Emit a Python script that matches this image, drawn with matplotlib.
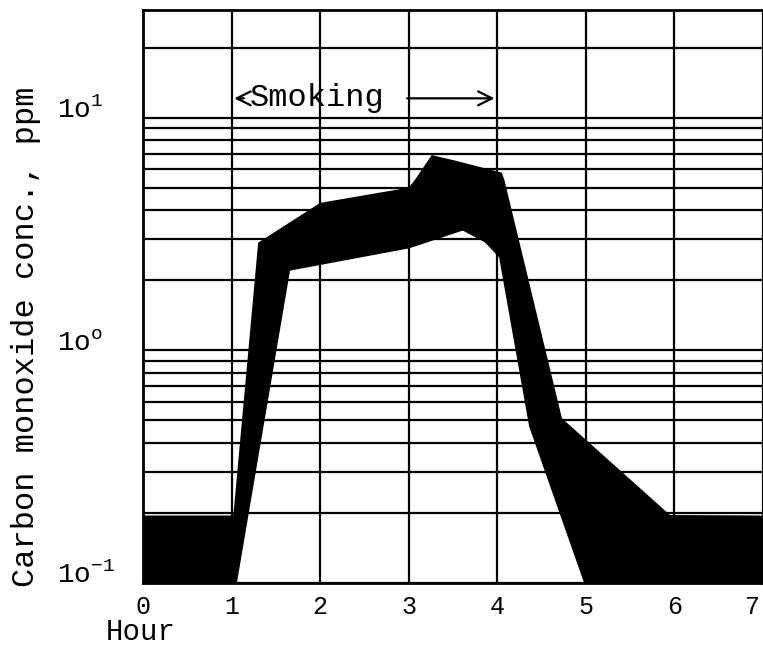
import matplotlib.pyplot as plt
import matplotlib.transforms as mtransforms
from matplotlib.ticker import LogLocator, NullFormatter

plt.rcParams['font.family'] = ['Liberation Mono', 'DejaVu Sans Mono']

# band of CO concentration (upper and lower edge), hours vs ppm
upper_hr = [0, 1.02, 1.30, 2.0, 3.0, 3.07, 3.26, 3.55, 4.05, 4.08, 4.73, 5.95, 7.0]
upper_ppm = [0.195, 0.195, 2.9, 4.3, 5.0, 5.4, 6.9, 6.5, 5.8, 5.4, 0.51, 0.196, 0.195]
lower_hr = [0, 1.06, 1.66, 3.0, 3.21, 3.61, 3.86, 4.02, 4.36, 4.98, 7.0]
lower_ppm = [0.1, 0.1, 2.2, 2.74, 2.91, 3.27, 2.91, 2.51, 0.47, 0.1, 0.1]

hours = [0, 1, 2, 3, 4, 5, 6, 7]
hour_labels = ['0', '1', '2', '3', '4', '5', '6', '7']
yticks = [0.1, 1, 10]
ytick_labels = [r'$\mathregular{1o^{-1}}$', r'$\mathregular{1o^{o}}$', r'$\mathregular{1o^{1}}$']

smoking_start, smoking_end = 1.0, 4.0

fig = plt.figure(figsize=(7.63, 6.49), dpi=100)
ax = fig.add_axes([143/763, 66/649, 620/763, 573/649])
ax.set_yscale('log')
ax.set_xlim(0, 7)
ax.set_ylim(0.1, 29)

ax.fill(upper_hr + lower_hr[::-1], upper_ppm + lower_ppm[::-1],
        color='black', lw=0, zorder=3)

ax.set_xticks(hours)
ax.set_xticklabels(hour_labels, fontsize=18)
ax.set_yticks(yticks)
ax.set_yticklabels(ytick_labels, fontsize=20)
ax.yaxis.set_minor_locator(LogLocator(base=10, subs=range(2, 10), numticks=20))
ax.yaxis.set_minor_formatter(NullFormatter())
ax.tick_params(which='both', length=0)
ax.tick_params(axis='x', pad=9)
ax.tick_params(axis='y', pad=62)
for lbl in ax.get_yticklabels():
    lbl.set_ha('left')
    lbl.set_va('baseline')

# last hour label sits at the right edge, nudge it inward
last = ax.get_xticklabels()[-1]
last.set_ha('right')
last.set_transform(last.get_transform() +
                   mtransforms.ScaledTranslation(-4/100, 0, fig.dpi_scale_trans))

ax.grid(which='both', color='black', lw=1.6)
for sp in ax.spines.values():
    sp.set_linewidth(2)

# smoking period annotation
ax.text(1.2, 12.1, 'Smoking', fontsize=23, va='center', ha='left')
ax.annotate('', xy=(smoking_start, 12.1), xytext=(1.17, 12.1),
            arrowprops=dict(arrowstyle='->', lw=1.6, mutation_scale=25))
ax.annotate('', xy=(smoking_end, 12.1), xytext=(2.95, 12.1),
            arrowprops=dict(arrowstyle='->', lw=1.6, mutation_scale=25))

fig.text(26/763, 1 - 337/649, 'Carbon monoxide conc., ppm', rotation=90,
         ha='center', va='center', fontsize=23)
fig.text(141/763, 1 - 632/649, 'Hour', ha='center', va='center', fontsize=21)

fig.savefig('out.png', dpi=100)
